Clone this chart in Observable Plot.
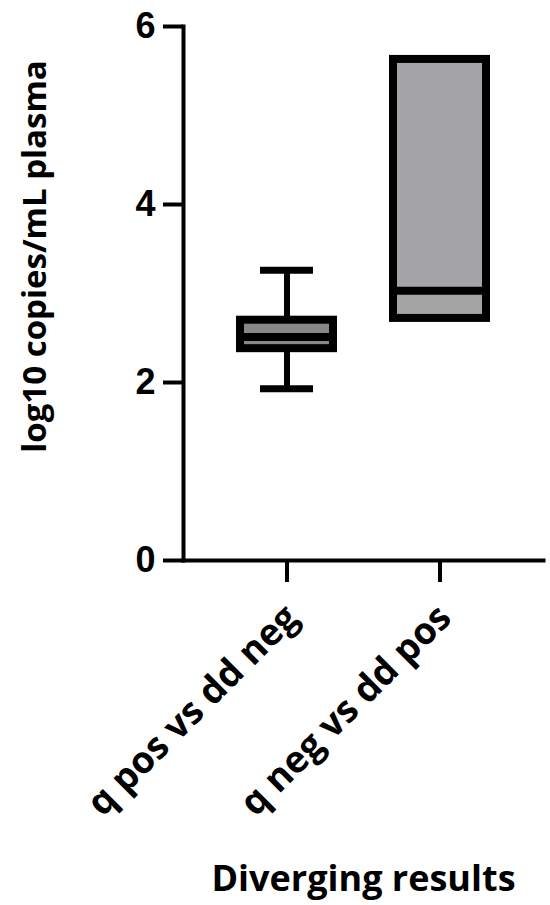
<!DOCTYPE html>
<html><head><meta charset="utf-8">
<script src="https://cdn.jsdelivr.net/npm/d3@7"></script>
<script src="https://cdn.jsdelivr.net/npm/@observablehq/plot@0.6"></script>
<style>body{margin:0;background:#fff;color:#000}</style>
</head><body><div id="chart"></div>
<script>
const groups = ["q pos vs dd neg", "q neg vs dd pos"];
const mins = [1.93, 2.72];
const q1s = [2.38, 2.72];
const medians = [2.51, 3.03];
const q3s = [2.70, 5.63];
const maxs = [3.26, 5.63];
const fills = ["#878787", "#a4a4a7"];
const yTicks = [0, 2, 4, 6];
const yLabel = "log10 copies/mL plasma";
const xLabel = "Diverging results";

const data = groups.map((g, i) => ({group: g, min: mins[i], q1: q1s[i], median: medians[i], q3: q3s[i], max: maxs[i], fill: fills[i]}));
const whiskered = data.filter(d => d.max > d.q3 || d.min < d.q1);
const labelFont = "'Open Sans', Lato, sans-serif";

const plot = Plot.plot({
  width: 550, height: 905,
  marginLeft: 183, marginRight: 7, marginTop: 26, marginBottom: 345,
  style: {background: "white", overflow: "visible", color: "black"},
  x: {type: "band", domain: groups, paddingInner: 0.392, paddingOuter: 0.37},
  y: {domain: [0, 6]},
  marks: [
    Plot.ruleX(whiskered, {x: "group", y1: "q3", y2: "max", stroke: "black", strokeWidth: 6}),
    Plot.ruleX(whiskered, {x: "group", y1: "min", y2: "q1", stroke: "black", strokeWidth: 6}),
    Plot.tickY(whiskered, {x: "group", y: "max", stroke: "black", strokeWidth: 7, inset: 20}),
    Plot.tickY(whiskered, {x: "group", y: "min", stroke: "black", strokeWidth: 7, inset: 20}),
    ...data.map(d => Plot.barY([d], {x: "group", y1: "q1", y2: "q3", fill: d.fill, stroke: "black", strokeWidth: 8})),
    Plot.tickY(data, {x: "group", y: "median", stroke: "black", strokeWidth: 8}),
    Plot.axisY({ticks: yTicks, tickSize: 20, tickPadding: 8, strokeWidth: 4, fontSize: 36, fontWeight: "bold",
      fontFamily: "'Liberation Sans', Arial, sans-serif", label: null, tickFormat: d => d}),
    Plot.axisX({tickSize: 22, strokeWidth: 4, text: null, label: null}),
    Plot.axisX({tickSize: 0, tickRotate: -45, tickPadding: 0, dx: 5, dy: 51, fontSize: 37, fontWeight: "bold",
      fontFamily: labelFont, label: null}),
    Plot.frame({anchor: "left", strokeWidth: 4, strokeLinecap: "square"}),
    Plot.frame({anchor: "bottom", strokeWidth: 4}),
    Plot.text([yLabel], {frameAnchor: "left", textAnchor: "middle", lineAnchor: "middle", rotate: -90, dx: -148, dy: -37,
      fontSize: 33, fontWeight: "bold", fontFamily: labelFont, fill: "black"}),
    Plot.text([xLabel], {frameAnchor: "bottom", textAnchor: "middle", lineAnchor: "bottom", dy: 330,
      fontSize: 36, fontWeight: "bold", fontFamily: labelFont, fill: "black"})
  ]
});
document.getElementById("chart").appendChild(plot);
</script>
</body></html>
